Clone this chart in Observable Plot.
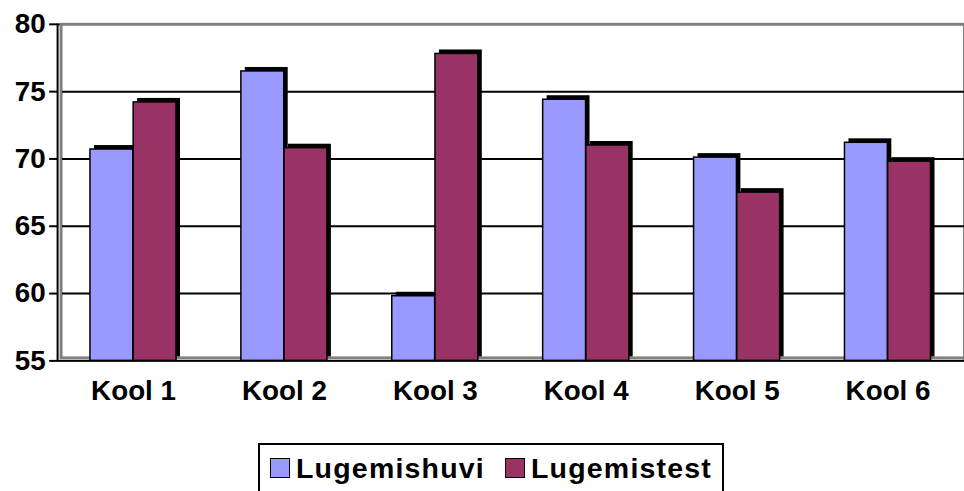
<!DOCTYPE html>
<html>
<head>
<meta charset="utf-8">
<script src="https://cdn.jsdelivr.net/npm/d3@7"></script>
<script src="https://cdn.jsdelivr.net/npm/@observablehq/plot@0.6"></script>
<style>
html,body{margin:0;padding:0;background:#fff;overflow:hidden;width:964px;height:491px}
#wrap{position:relative;width:964px;height:491px;overflow:hidden;font-family:"Liberation Sans",Arial,sans-serif;font-weight:bold}
#chart{position:absolute;left:0;top:0}
#chart svg g[aria-label^="y-axis"] line,#chart svg g[aria-label^="y-axis"] path{stroke-width:2}
#legend{position:absolute;left:258px;top:443px;width:462px;height:60px;border:2px solid #000;background:#fff;display:flex;align-items:flex-start;padding-top:7px;box-sizing:content-box}
.item{display:flex;align-items:flex-start;font-size:28.5px;line-height:32px;letter-spacing:1.2px;color:#000}
.sw{width:20px;height:20px;box-sizing:border-box;border:1.5px solid #000;margin-top:6px;margin-right:6px}
</style>
</head>
<body>
<div id="wrap">
  <div id="chart"></div>
  <div id="legend"></div>
</div>
<script>
const schools = ["Kool 1", "Kool 2", "Kool 3", "Kool 4", "Kool 5", "Kool 6"];
const lugemishuvi = [70.7, 76.5, 59.8, 74.4, 70.1, 71.2];
const lugemistest = [74.2, 70.8, 77.8, 71.0, 67.5, 69.8];
const seriesNames = ["Lugemishuvi", "Lugemistest"];
const seriesColors = ["#9999FF", "#993366"];
const yTicks = [55, 60, 65, 70, 75, 80];
const gridValues = [60, 65, 70, 75];

const yMin = yTicks[0], yMax = yTicks[yTicks.length - 1];
const huviRows = schools.map((s, i) => ({school: s, value: lugemishuvi[i]}));
const testRows = schools.map((s, i) => ({school: s, value: lugemistest[i]}));

const barA = {insetLeft: 32.6, insetRight: 76.2};
const barB = {insetLeft: 76.1, insetRight: 32.7};

const plot = Plot.plot({
  width: 971,
  height: 430,
  marginLeft: 57.5,
  marginRight: 0,
  marginTop: 24,
  marginBottom: 67,
  style: {fontFamily: '"Liberation Sans", Arial, sans-serif', fontSize: "28px", fontWeight: "bold", color: "#000", background: "transparent", overflow: "visible"},
  x: {domain: schools, padding: 0, label: null, tickSize: 0, tickPadding: 20},
  y: {domain: [yMin, yMax], ticks: yTicks, tickSize: 8, tickPadding: 4, label: null, tickFormat: d => String(d)},
  marks: [
    Plot.frame({stroke: "#000", strokeWidth: 2}),
    Plot.frame({stroke: "#808080", strokeWidth: 3, fill: "#fff", insetLeft: 3.5, insetBottom: 3}),
    Plot.ruleY(gridValues, {stroke: "#000", strokeWidth: 2, insetLeft: 5}),
    Plot.barY(huviRows, {x: "school", y1: yMin, y2: "value", fill: "#000", dx: 4, dy: -4, ...barA}),
    Plot.barY(testRows, {x: "school", y1: yMin, y2: "value", fill: "#000", dx: 4, dy: -4, ...barB}),
    Plot.barY(huviRows, {x: "school", y1: yMin, y2: "value", fill: seriesColors[0], stroke: "#000", strokeWidth: 1.5, ...barA}),
    Plot.barY(testRows, {x: "school", y1: yMin, y2: "value", fill: seriesColors[1], stroke: "#000", strokeWidth: 1.5, ...barB})
  ]
});
document.getElementById("chart").appendChild(plot);

const legend = document.getElementById("legend");
seriesNames.forEach((name, i) => {
  const item = document.createElement("div");
  item.className = "item";
  item.style.marginLeft = i === 0 ? "10px" : "20px";
  const sw = document.createElement("div");
  sw.className = "sw";
  sw.style.background = seriesColors[i];
  const t = document.createElement("span");
  t.textContent = name;
  item.appendChild(sw);
  item.appendChild(t);
  legend.appendChild(item);
});
</script>
</body>
</html>
